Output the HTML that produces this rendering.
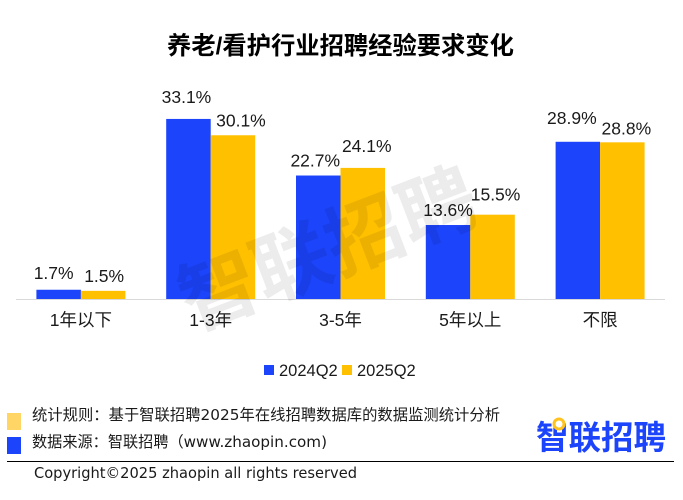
<!DOCTYPE html>
<html lang="zh">
<head>
<meta charset="utf-8">
<style>
html,body{margin:0;padding:0;background:#fff}
svg{display:block}
text{font-family:"Liberation Sans","Noto Sans CJK SC",sans-serif;fill:#1a1a1a}
text.wide{font-family:"DejaVu Sans","Noto Sans CJK SC",sans-serif}
</style>
</head>
<body>
<svg id="chart" xmlns="http://www.w3.org/2000/svg" width="683" height="500" viewBox="0 0 683 500">
<text x="340.5" y="54" text-anchor="middle" font-size="24.3" font-weight="700" style="fill:#000">养老/看护行业招聘经验要求变化</text>
<g id="bars"></g>
<g id="labels"></g>
<g id="xaxis"></g>
<text transform="translate(338 275) rotate(-21)" text-anchor="middle" font-size="78" font-weight="700" style="fill:#000;fill-opacity:.075">智联招聘</text>
<g>
<g>
<rect x="264" y="365" width="10" height="10" fill="#1c44fb"/>
<text x="279" y="376" font-size="16.5">2024Q2</text>
</g>
<g>
<rect x="342" y="365" width="10" height="10" fill="#ffc000"/>
<text x="357" y="376" font-size="16.5">2025Q2</text>
</g>
</g>
<rect x="7" y="413" width="14" height="17" fill="#ffd565"/>
<text class="wide" x="32" y="420" font-size="15.3" textLength="468" lengthAdjust="spacing">统计规则：基于智联招聘2025年在线招聘数据库的数据监测统计分析</text>
<rect x="7" y="437" width="14" height="17" fill="#1c44fb"/>
<text class="wide" x="32" y="447" font-size="15.3" textLength="295" lengthAdjust="spacingAndGlyphs">数据来源：智联招聘（www.zhaopin.com)</text>
<g>
<text x="536" y="449" font-size="33" font-weight="700" textLength="130" lengthAdjust="spacingAndGlyphs" style="fill:#1c44fb">智联招聘</text>
<circle cx="559" cy="424" r="5" fill="#fff" stroke="#ffc21f" stroke-width="3"/>
</g>
<rect x="7" y="461" width="667" height="1" fill="#000"/>
<text class="wide" x="34" y="478" font-size="15" textLength="323" lengthAdjust="spacingAndGlyphs">Copyright©2025 zhaopin all rights reserved</text>
</svg>
<script>
const categories = ['1年以下', '1-3年', '3-5年', '5年以上', '不限'];
const series2024 = [1.7, 33.1, 22.7, 13.6, 28.9];
const series2025 = [1.5, 30.1, 24.1, 15.5, 28.8];

const NS = 'http://www.w3.org/2000/svg';
const plotLeft = 16, plotRight = 665, baseline = 299, pxPerUnit = 5.44, barWidth = 44.5;
const band = (plotRight - plotLeft) / categories.length;
const xCenter = i => plotLeft + band * (i + 0.5);
const yScale = v => baseline - v * pxPerUnit;

/* hand-placed label offsets relative to each bar (the reference nudges labels to avoid collisions) */
const nudgeX2024 = [-4, -1, -2, 1, -5];
const nudgeY2024 = [-2, -7, 0, 0, -9];
const nudgeX2025 = [0, 7, 3, 2, 3];
const nudgeY2025 = [0, 0, -7, -5, 1];

function make(tag, attrs, parent, text) {
  const el = document.createElementNS(NS, tag);
  for (const k in attrs) el.setAttribute(k, attrs[k]);
  if (text !== undefined) el.textContent = text;
  parent.appendChild(el);
  return el;
}
const barsG = document.getElementById('bars');
const labelsG = document.getElementById('labels');
const axisG = document.getElementById('xaxis');

function drawSeries(values, color, side, key, nudgeX, nudgeY) {
  values.forEach((v, i) => {
    const x = side < 0 ? xCenter(i) - barWidth : xCenter(i);
    const bar = make('rect', {x: x, y: yScale(v), width: barWidth, height: baseline - yScale(v), fill: color}, barsG);
    
    
    const label = make('text', {x: x + barWidth / 2 + side + nudgeX[i], y: yScale(v) - 9 + nudgeY[i], 'text-anchor': 'middle', 'font-size': 17.5}, labelsG, v.toFixed(1) + '%');
    
    
  });
}
drawSeries(series2024, '#1c44fb', -1, '2024q2', nudgeX2024, nudgeY2024);
drawSeries(series2025, '#ffc000', 1, '2025q2', nudgeX2025, nudgeY2025);

const axisLine = make('rect', {x: plotLeft, y: baseline, width: plotRight - plotLeft, height: 1, fill: '#d9d9d9'}, axisG);


categories.forEach((c, i) => {
  const t = make('text', {x: xCenter(i), y: 326, 'text-anchor': 'middle', 'font-size': 17.5}, axisG, c);
  
  
});
</script>
</body>
</html>
